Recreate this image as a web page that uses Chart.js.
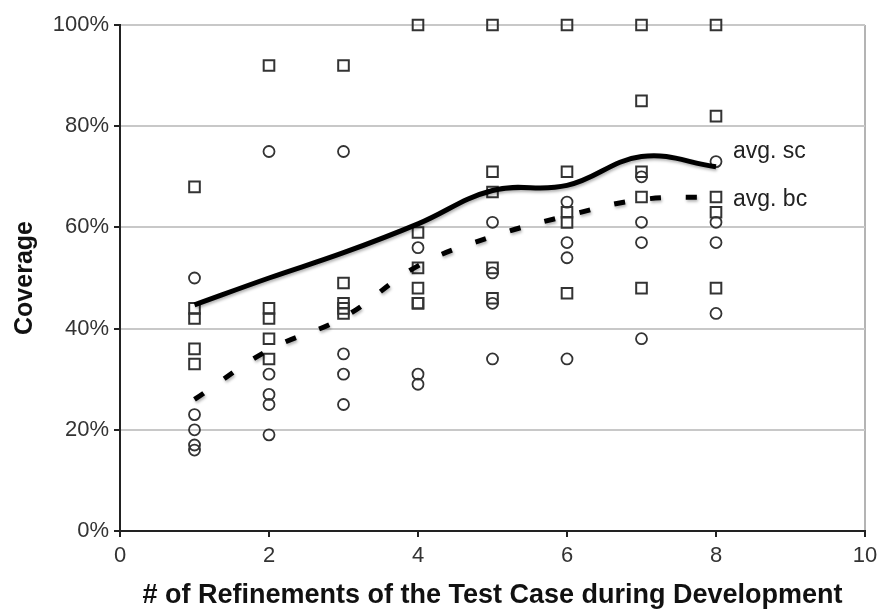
<!DOCTYPE html>
<html>
<head>
<meta charset="utf-8">
<script src="https://cdn.jsdelivr.net/npm/chart.js@4/dist/chart.umd.min.js"></script>
<style>
  html, body { margin: 0; padding: 0; background: #fff; }
  #wrap { width: 880px; height: 609px; }
</style>
</head>
<body>
<div id="wrap"><canvas id="grafico"></canvas></div>
<script>
// datos
const refinamientos = [1, 2, 3, 4, 5, 6, 7, 8];
const promedioSc = [44.7, 50, 55, 60.7, 67.3, 68.3, 74, 72];
const promedioBc = [26, 35.8, 42.2, 52.4, 58.2, 62.3, 65.5, 66];

// cuadrados (sc) y círculos (bc) por número de refinamientos
const valoresCuadrados = [
  [68, 44, 42, 36, 33],
  [92, 44, 42, 38, 34],
  [92, 49, 45, 44, 43],
  [100, 59, 52, 48, 45, 45],
  [100, 71, 67, 52, 46],
  [100, 71, 63, 61, 47],
  [100, 85, 71, 66, 48],
  [100, 82, 66, 63, 48]
];
const valoresCirculos = [
  [50, 23, 20, 17, 16],
  [75, 31, 27, 25, 19],
  [75, 35, 31, 25],
  [56, 31, 29],
  [61, 51, 45, 34],
  [65, 57, 54, 34],
  [70, 61, 57, 38],
  [73, 61, 57, 43]
];
const ticksX = [0, 2, 4, 6, 8, 10];
const ticksY = [0, 20, 40, 60, 80, 100];
const etiquetas = [
  { texto: 'avg. sc', x: 8, y: 75 },
  { texto: 'avg. bc', x: 8, y: 65.4 }
];

const fuente = '"Liberation Sans", Arial, Helvetica, sans-serif';

function aPuntos(listas) {
  const puntos = [];
  listas.forEach((vals, i) => {
    vals.forEach(v => puntos.push({ x: refinamientos[i], y: v }));
  });
  return puntos;
}

const sombraLineas = {
  id: 'sombraLineas',
  beforeDatasetDraw(chart, args) {
    const ds = chart.data.datasets[args.index];
    if (ds.type !== 'line') return;
    const ctx = chart.ctx;
    ctx.save();
    ctx.shadowColor = 'rgba(0,0,0,0.3)';
    ctx.shadowBlur = 3;
    ctx.shadowOffsetX = 1;
    ctx.shadowOffsetY = 2;
  },
  afterDatasetDraw(chart, args) {
    const ds = chart.data.datasets[args.index];
    if (ds.type !== 'line') return;
    chart.ctx.restore();
  }
};

const textosPromedio = {
  id: 'textosPromedio',
  afterDatasetsDraw(chart) {
    const ctx = chart.ctx;
    const sx = chart.scales.x;
    const sy = chart.scales.y;
    ctx.save();
    ctx.font = '23px ' + fuente;
    ctx.fillStyle = '#222';
    ctx.textBaseline = 'middle';
    ctx.textAlign = 'left';
    etiquetas.forEach(e => {
      ctx.fillText(e.texto, sx.getPixelForValue(e.x) + 17, sy.getPixelForValue(e.y));
    });
    ctx.restore();
  }
};

const ctx = document.getElementById('grafico').getContext('2d');
new Chart(ctx, {
  type: 'scatter',
  data: {
    datasets: [
      {
        type: 'line',
        label: 'avg. sc',
        data: refinamientos.map((x, i) => ({ x, y: promedioSc[i] })),
        borderColor: '#000',
        borderWidth: 5,
        pointRadius: 0,
        tension: 0.4,
        fill: false
      },
      {
        type: 'line',
        label: 'avg. bc',
        data: refinamientos.map((x, i) => ({ x, y: promedioBc[i] })),
        borderColor: '#000',
        borderWidth: 5,
        borderDash: [11, 25],
        pointRadius: 0,
        tension: 0.4,
        fill: false
      },
      {
        label: 'sc',
        data: aPuntos(valoresCuadrados),
        pointStyle: 'rect',
        pointRadius: 7.5,
        borderColor: '#333',
        borderWidth: 2,
        backgroundColor: 'rgba(0,0,0,0)',
        clip: false
      },
      {
        label: 'bc',
        data: aPuntos(valoresCirculos),
        pointStyle: 'circle',
        pointRadius: 5.5,
        borderColor: '#333',
        borderWidth: 1.8,
        backgroundColor: 'rgba(0,0,0,0)',
        clip: false
      }
    ]
  },
  options: {
    responsive: true,
    maintainAspectRatio: false,
    animation: false,
    layout: { padding: { top: 25, right: 15, left: 0, bottom: 0 } },
    plugins: {
      legend: { display: false },
      tooltip: { enabled: false }
    },
    scales: {
      x: {
        type: 'linear',
        min: 0,
        max: 10,
        afterBuildTicks: s => { s.ticks = ticksX.map(v => ({ value: v })); },
        afterFit: s => {
          s.height = 78;
          s.paddingRight = 0;
          s.paddingLeft = 0;
        },
        ticks: {
          color: '#333',
          font: { family: fuente, size: 22 },
          padding: 6
        },
        grid: {
          drawOnChartArea: true,
          color: c => (c.tick && c.tick.value === 10 ? '#b4b4b4' : 'rgba(0,0,0,0)'),
          lineWidth: 2,
          tickColor: '#222',
          tickLength: 6
        },
        border: { color: '#222', width: 2 },
        title: {
          display: true,
          text: '# of Refinements of the Test Case during Development',
          color: '#111',
          font: { family: fuente, size: 27, weight: 'bold', lineHeight: 1 },
          padding: { top: 0, bottom: 0 }
        }
      },
      y: {
        min: 0,
        max: 100,
        afterBuildTicks: s => { s.ticks = ticksY.map(v => ({ value: v })); },
        afterFit: s => { s.width = 120; },
        ticks: {
          color: '#333',
          font: { family: fuente, size: 22 },
          padding: 5,
          callback: v => v + '%'
        },
        grid: {
          color: '#c8c8c8',
          lineWidth: 2,
          tickColor: '#222',
          tickLength: 6
        },
        border: { color: '#222', width: 2 },
        title: {
          display: true,
          text: 'Coverage',
          color: '#111',
          font: { family: fuente, size: 25, weight: 'bold' },
          padding: { top: 10, bottom: 0 }
        }
      }
    }
  },
  plugins: [sombraLineas, textosPromedio]
});
</script>
</body>
</html>
